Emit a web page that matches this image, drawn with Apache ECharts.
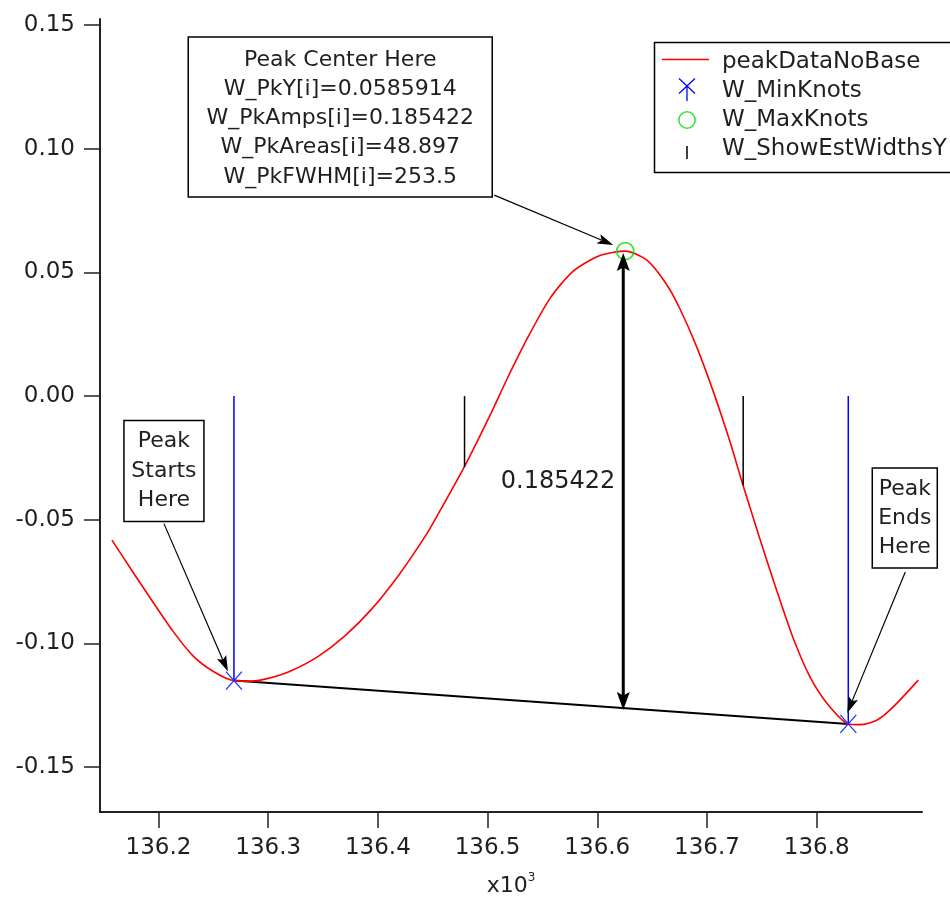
<!DOCTYPE html>
<html><head><meta charset="utf-8">
<script src="https://cdn.jsdelivr.net/npm/echarts@6/dist/echarts.min.js"></script>
<style>html,body{margin:0;padding:0;background:#fff}#c{width:950px;height:901px}</style>
</head><body><div id="c"></div>
<script>
// ---- data ----
const peakX = [136.1576, 136.1750, 136.1923, 136.2132, 136.2315, 136.2497, 136.2688, 136.2850, 136.3010, 136.3201,
  136.3449, 136.3697, 136.3945, 136.4193, 136.4441, 136.4563, 136.4788, 136.5022, 136.5174, 136.5356,
  136.5569, 136.5781, 136.6024, 136.6255, 136.6450, 136.6633, 136.6754, 136.6906, 136.7057, 136.7210,
  136.7325, 136.7408, 136.7484, 136.7635, 136.7787, 136.7939, 136.8091, 136.8288, 136.8395, 136.8547,
  136.8698, 136.8926];
const peakY = [-0.0582, -0.0700, -0.0815, -0.0950, -0.1050, -0.1112, -0.1150, -0.1152, -0.1140, -0.1112,
  -0.1054, -0.0970, -0.0860, -0.0722, -0.0560, -0.0466, -0.0286, -0.0078, 0.0066, 0.0228,
  0.0395, 0.0505, 0.0568, 0.0586, 0.0550, 0.0450, 0.0352, 0.0199, 0.0019, -0.0185,
  -0.0355, -0.0473, -0.0580, -0.0785, -0.0980, -0.1135, -0.1240, -0.1325, -0.1328, -0.1310,
  -0.1256, -0.1148];
const minKnotsX = [136.2688, 136.8288];
const minKnotsY = [-0.1150, -0.1325];
const maxKnotsX = [136.6255];
const maxKnotsY = [0.0585914];
const widthsX = [136.4790, 136.7330];
const widthsY = [-0.0286, -0.0360];
const pkAmp = 0.185422;
const pkArea = 48.897;
const pkFWHM = 253.5;
const xTicks = [136.2, 136.3, 136.4, 136.5, 136.6, 136.7, 136.8];
const yTicks = [-0.15, -0.10, -0.05, 0, 0.05, 0.10, 0.15];
const xRange = [136.1467, 136.896];
const yRange = [-0.1681, 0.1524];

// ---- styling ----
const F = "'DejaVu Sans', Verdana, sans-serif";
const TXT = '#1f1f1f';

function seg(x1, y1, x2, y2, w) {
  const dx = x2 - x1, dy = y2 - y1, L = Math.hypot(dx, dy);
  const nx = -dy / L * w / 2, ny = dx / L * w / 2;
  const f = v => v.toFixed(2);
  return 'M' + f(x1 + nx) + ',' + f(y1 + ny) + 'L' + f(x2 + nx) + ',' + f(y2 + ny) +
    'L' + f(x2 - nx) + ',' + f(y2 - ny) + 'L' + f(x1 - nx) + ',' + f(y1 - ny) + 'Z';
}
const ANCH = 'M0,0L0.01,0L0,0.01Z M55,26L54.99,26L55,25.99Z ';
const iconLine = 'path://' + ANCH + seg(0, 10.5, 47, 10.5, 1.6);
const iconX = 'path://' + ANCH + seg(17, 0.5, 33, 15.5, 1.3) + seg(33, 0.5, 17, 15.5, 1.3) + seg(25, 8, 25, 23, 1.3);
const iconO = 'path://' + ANCH + 'M16,13 A9,9 0 1,0 34,13 A9,9 0 1,0 16,13 Z M17.6,13 A7.4,7.4 0 1,1 32.4,13 A7.4,7.4 0 1,1 17.6,13 Z';
const iconStick = 'path://' + ANCH + seg(25, 10, 25, 23, 1.5);

function arrowHead(x1, y1, x2, y2, len, half) {
  const dx = x2 - x1, dy = y2 - y1, L = Math.hypot(dx, dy);
  const ux = dx / L, uy = dy / L, nx = -uy, ny = ux;
  const bx = x2 - ux * len, by = y2 - uy * len;
  const mx = x2 - ux * len * 0.8, my = y2 - uy * len * 0.8;
  return {
    type: 'polygon',
    shape: { points: [[x2, y2], [bx + nx * half, by + ny * half], [mx, my], [bx - nx * half, by - ny * half]] },
    style: { fill: '#000' }
  };
}

// callout boxes: pixel layout relative to their target point
const callouts = [
  { lines: ['Peak', 'Starts', 'Here'], box: [-110, -260, 80, 101], first: 21, gap: 29.5, from: [-70, -157], to: [-6, -9] },
  { lines: ['Peak', 'Ends', 'Here'], box: [24, -256, 65, 100], first: 21, gap: 29, from: [57, -152], to: [-1, -11] },
  { lines: ['Peak Center Here', 'W_PkY[i]=' + maxKnotsY[0], 'W_PkAmps[i]=' + pkAmp,
            'W_PkAreas[i]=' + pkArea, 'W_PkFWHM[i]=' + pkFWHM],
    box: [-437, -214, 304, 160], first: 23, gap: 29.2, from: [-131, -56], to: [-12, -6] }
];
const calloutData = [
  [minKnotsX[0], minKnotsY[0], 0],
  [minKnotsX[1], minKnotsY[1], 1],
  [maxKnotsX[0], maxKnotsY[0], 2]
];

const chart = echarts.init(document.getElementById('c'), null, { renderer: 'canvas' });
chart.setOption({
  animation: false,
  backgroundColor: '#fff',
  grid: { left: 100, right: 28, top: 19, bottom: 89, containLabel: false, outerBoundsMode: 'none' },
  graphic: [{
    type: 'rect', left: 652, top: 40, z: 0, silent: true,
    shape: { width: 420, height: 130 },
    style: { fill: 'none', stroke: '#000', lineWidth: 1.5 }
  }],
  legend: {
    orient: 'vertical', left: 652, top: 40,
    padding: [9, 10, 9, 10], itemWidth: 55, itemHeight: 26, itemGap: 3,
    borderWidth: 0, selectedMode: false,
    textStyle: { fontFamily: F, fontSize: 23, color: TXT },
    data: [
      { name: 'peakDataNoBase', icon: iconLine, itemStyle: { color: '#ff0000', borderWidth: 0 } },
      { name: 'W_MinKnots', icon: iconX, itemStyle: { color: '#0000ff', borderWidth: 0 } },
      { name: 'W_MaxKnots', icon: iconO, itemStyle: { color: '#00e000', borderWidth: 0 } },
      { name: 'W_ShowEstWidthsY', icon: iconStick, itemStyle: { color: '#000000', borderWidth: 0 } }
    ]
  },
  xAxis: {
    type: 'value', min: xRange[0], max: xRange[1],
    axisLine: { show: true, onZero: false, lineStyle: { color: '#222', width: 2 } },
    axisTick: { show: true, length: 16, inside: false, customValues: xTicks, lineStyle: { color: '#222', width: 1.5 } },
    axisLabel: { show: true, customValues: xTicks, formatter: v => v.toFixed(1), margin: 25,
                 fontFamily: F, fontSize: 23, color: TXT },
    splitLine: { show: false },
    name: '{b|x10}{s|3}', nameLocation: 'middle', nameGap: 60,
    nameTextStyle: {
      color: TXT, fontFamily: F,
      rich: {
        b: { fontFamily: F, fontSize: 22, lineHeight: 28, color: TXT },
        s: { fontFamily: F, fontSize: 12, lineHeight: 14, verticalAlign: 'top', color: TXT }
      }
    }
  },
  yAxis: {
    type: 'value', min: yRange[0], max: yRange[1],
    axisLine: { show: true, onZero: false, lineStyle: { color: '#222', width: 2 } },
    axisTick: { show: true, length: 16, inside: false, customValues: yTicks, lineStyle: { color: '#222', width: 1.5 } },
    axisLabel: { show: true, customValues: yTicks, formatter: v => v.toFixed(2), margin: 25,
                 fontFamily: F, fontSize: 23, color: TXT },
    splitLine: { show: false }
  },
  series: [
    {
      name: 'baseline', type: 'line', z: 2, symbol: 'none', silent: true,
      data: minKnotsX.map((x, i) => [x, minKnotsY[i]]),
      lineStyle: { color: '#000', width: 2 }
    },
    {
      name: 'peakDataNoBase', type: 'line', z: 3, symbol: 'none', smooth: 0.25,
      data: peakX.map((x, i) => [x, peakY[i]]),
      itemStyle: { color: '#ff0000' },
      lineStyle: { color: '#ff0000', width: 1.6 }
    },
    {
      name: 'W_ShowEstWidthsY', type: 'custom', z: 4,
      data: widthsX.map((x, i) => [x, widthsY[i]]),
      encode: { x: 0, y: 1 },
      itemStyle: { color: '#000' },
      renderItem: (params, api) => {
        const p = api.coord([api.value(0), api.value(1)]);
        const p0 = api.coord([api.value(0), 0]);
        return { type: 'line', shape: { x1: p0[0], y1: p0[1], x2: p[0], y2: p[1] },
                 style: { stroke: '#000', lineWidth: 1.5 } };
      }
    },
    {
      name: 'W_MinKnots', type: 'custom', z: 5,
      data: minKnotsX.map((x, i) => [x, minKnotsY[i]]),
      encode: { x: 0, y: 1 },
      itemStyle: { color: '#0000ff' },
      renderItem: (params, api) => {
        const p = api.coord([api.value(0), api.value(1)]);
        const p0 = api.coord([api.value(0), 0]);
        const sx = 8, sy = 9;
        return { type: 'group', children: [
          { type: 'line', shape: { x1: p0[0], y1: p0[1], x2: p[0], y2: p[1] }, style: { stroke: '#0000ff', lineWidth: 1.5 } },
          { type: 'line', shape: { x1: p[0] - sx, y1: p[1] - sy, x2: p[0] + sx, y2: p[1] + sy }, style: { stroke: '#2233ff', lineWidth: 1.3 } },
          { type: 'line', shape: { x1: p[0] + sx, y1: p[1] - sy, x2: p[0] - sx, y2: p[1] + sy }, style: { stroke: '#2233ff', lineWidth: 1.3 } }
        ] };
      }
    },
    {
      name: 'W_MaxKnots', type: 'scatter', z: 6,
      data: maxKnotsX.map((x, i) => [x, maxKnotsY[i]]),
      symbol: 'circle', symbolSize: 17,
      itemStyle: { color: 'rgba(0,0,0,0)', borderColor: '#00e000', borderWidth: 1.7 }
    },
    {
      name: 'amplitude', type: 'custom', z: 7, silent: true,
      data: [[maxKnotsX[0], maxKnotsY[0], pkAmp]],
      encode: { x: 0, y: 1 },
      renderItem: (params, api) => {
        const x = api.value(0), y = api.value(1), a = api.value(2);
        const top = api.coord([x, y]);
        const bot = api.coord([x, y - a]);
        const tx = top[0] - 2, t = top[1] + 2;
        return { type: 'group', children: [
          { type: 'line', shape: { x1: tx, y1: t + 14, x2: tx, y2: bot[1] - 14 }, style: { stroke: '#000', lineWidth: 3 } },
          arrowHead(tx, t + 40, tx, t, 18, 6.5),
          arrowHead(tx, bot[1] - 40, tx, bot[1], 18, 6.5),
          { type: 'text', style: { text: String(a), x: tx - 8, y: (t + bot[1]) / 2, align: 'right', verticalAlign: 'middle',
                                   font: '24px ' + F, fill: TXT } }
        ] };
      }
    },
    {
      name: 'callouts', type: 'custom', z: 8, silent: true,
      data: calloutData,
      encode: { x: 0, y: 1 },
      renderItem: (params, api) => {
        const c = callouts[api.value(2)];
        const p = api.coord([api.value(0), api.value(1)]);
        const bx = p[0] + c.box[0], by = p[1] + c.box[1];
        const fx = p[0] + c.from[0], fy = p[1] + c.from[1];
        const tx = p[0] + c.to[0], ty = p[1] + c.to[1];
        const L = Math.hypot(tx - fx, ty - fy);
        const ex = tx - (tx - fx) / L * 13, ey = ty - (ty - fy) / L * 13;
        const children = [
          { type: 'rect', shape: { x: bx, y: by, width: c.box[2], height: c.box[3] },
            style: { fill: '#fff', stroke: '#000', lineWidth: 1.5 } },
          { type: 'line', shape: { x1: fx, y1: fy, x2: ex, y2: ey }, style: { stroke: '#000', lineWidth: 1.2 } },
          arrowHead(fx, fy, tx, ty, 16, 5)
        ];
        c.lines.forEach((t, i) => children.push({
          type: 'text',
          style: { text: t, x: bx + c.box[2] / 2, y: by + c.first + i * c.gap, align: 'center', verticalAlign: 'middle',
                   font: '22px ' + F, fill: TXT }
        }));
        return { type: 'group', children };
      }
    }
  ]
});
</script>
</body></html>
